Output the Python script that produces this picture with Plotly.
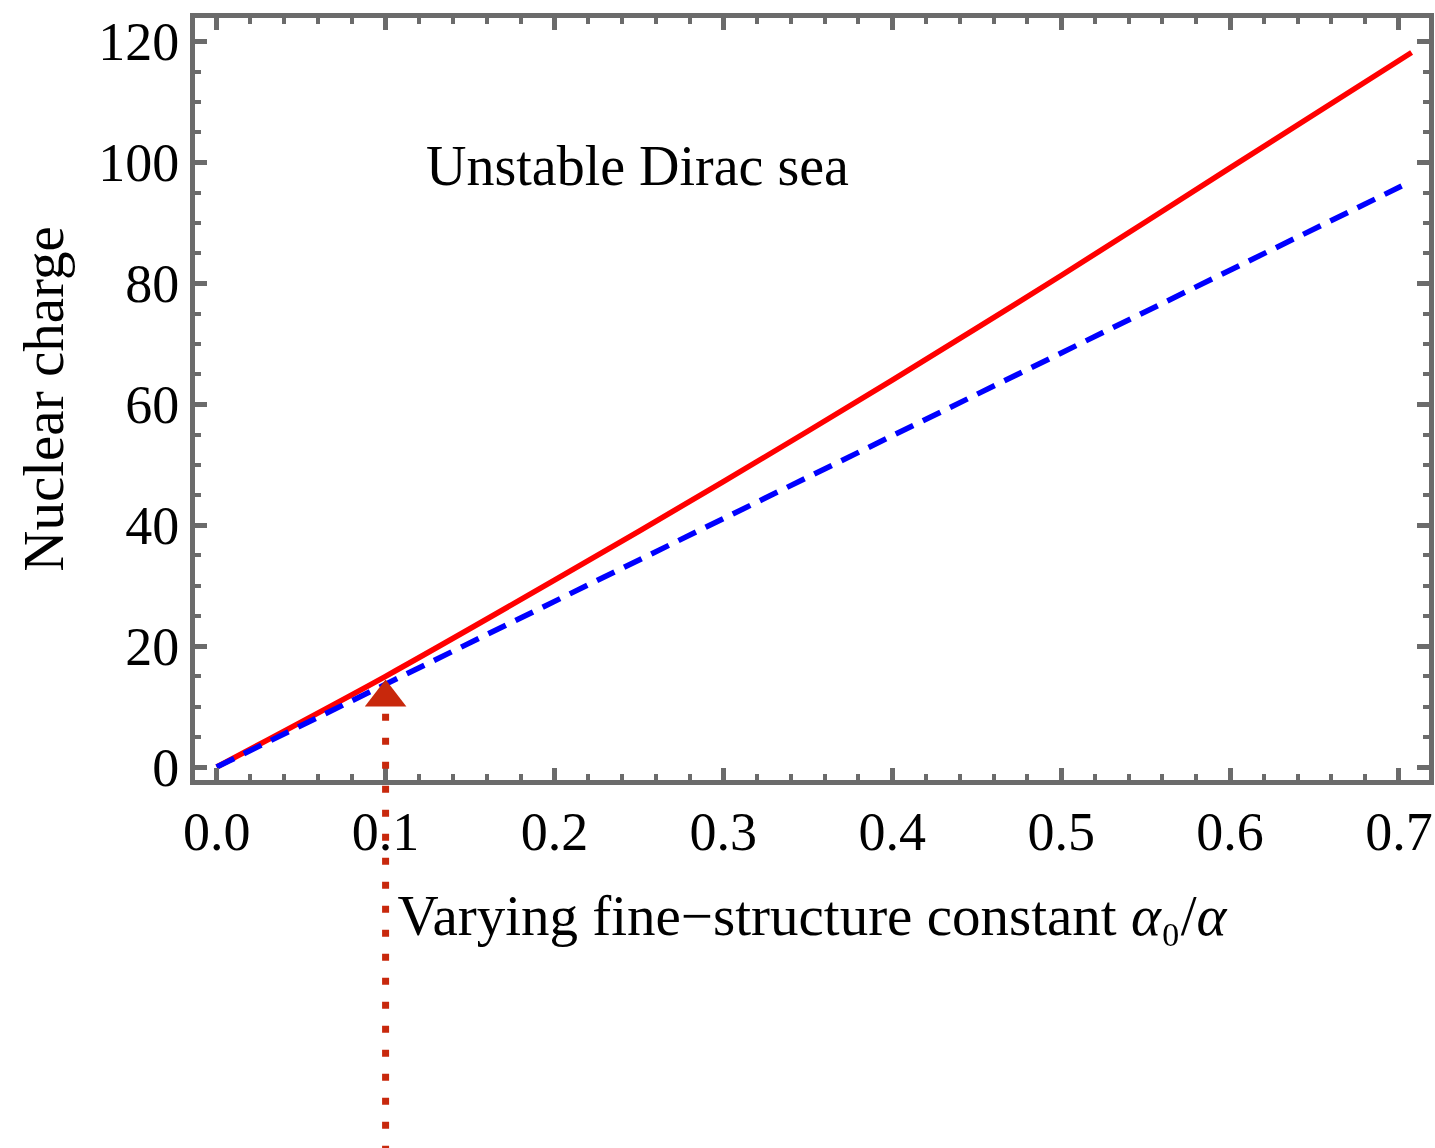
import plotly.graph_objects as go

# ---- data ----
red_x = [0.0, 0.1, 0.2, 0.3, 0.4, 0.5, 0.6, 0.7075]
red_z = [0.0, 15.0, 30.9, 47.2, 64.0, 81.3, 99.1, 118.2]

blue_x = [0.0, 0.1, 0.2, 0.3, 0.4, 0.5, 0.6, 0.7016]
blue_z = [0.0, 13.7, 27.4, 41.1, 54.8, 68.5, 82.2, 96.1]

marker_x = [0.1]
marker_z = [11.5]

x_ticks = [0.0, 0.1, 0.2, 0.3, 0.4, 0.5, 0.6, 0.7]
x_tick_labels = ["0.0", "0.1", "0.2", "0.3", "0.4", "0.5", "0.6", "0.7"]
y_ticks = [0, 20, 40, 60, 80, 100, 120]
y_tick_labels = ["0", "20", "40", "60", "80", "100", "120"]

FRAME = "#6b6b6b"
ARROW = "#c8280c"
FONT = "Liberation Serif"

fig = go.Figure()
fig.add_trace(go.Scatter(x=red_x, y=red_z, mode="lines",
                         line=dict(color="#ff0000", width=5.5, shape="spline", smoothing=0.8),
                         showlegend=False, hoverinfo="skip"))
fig.add_trace(go.Scatter(x=blue_x, y=blue_z, mode="lines",
                         line=dict(color="#0000ff", width=5.5, dash="19.5px,10.75px"),
                         showlegend=False, hoverinfo="skip"))
fig.add_trace(go.Scatter(x=marker_x, y=marker_z, mode="markers",
                         marker=dict(symbol="triangle-up", size=36, color=ARROW),
                         cliponaxis=False, showlegend=False, hoverinfo="skip"))

# dotted guide line below the arrow, extending past the plot frame
fig.add_shape(type="line", xref="x", yref="paper",
              x0=0.1, x1=0.1, y0=0.087, y1=-0.49,
              line=dict(color=ARROW, width=7, dash="7px,17px"))

fig.add_annotation(x=0.249, y=99.5, xref="x", yref="y",
                   text="Unstable Dirac sea", showarrow=False,
                   font=dict(family=FONT, size=56, color="black"))

axis_common = dict(
    showline=True, linewidth=5, linecolor=FRAME, mirror="allticks",
    ticks="inside", ticklen=12, tickwidth=5, tickcolor=FRAME,
    showgrid=False, zeroline=False,
    tickfont=dict(family=FONT, size=54, color="black"),
)

fig.update_xaxes(
    range=[-0.01285, 0.7178], tickvals=x_ticks, ticktext=x_tick_labels,
    minor=dict(ticks="inside", ticklen=6, tickwidth=4, tickcolor=FRAME, dtick=0.02, tick0=0, showgrid=False),
    title=dict(text="Varying fine\u2212structure constant <i>\u03b1</i>\u2080/<i>\u03b1</i>",
               font=dict(family=FONT, size=57, color="black"), standoff=36),
    **axis_common,
)
fig.update_yaxes(
    range=[-2.15, 123.9], tickvals=y_ticks, ticktext=y_tick_labels,
    minor=dict(ticks="inside", ticklen=6, tickwidth=4, tickcolor=FRAME, dtick=5, tick0=0, showgrid=False),
    title=dict(text="Nuclear charge", font=dict(family=FONT, size=57, color="black"), standoff=18),
    **axis_common,
)

fig.update_layout(
    width=1435, height=1148,
    margin=dict(l=195, r=6, t=18, b=368, autoexpand=False),
    paper_bgcolor="white", plot_bgcolor="white",
)

fig.write_html("out.html")
